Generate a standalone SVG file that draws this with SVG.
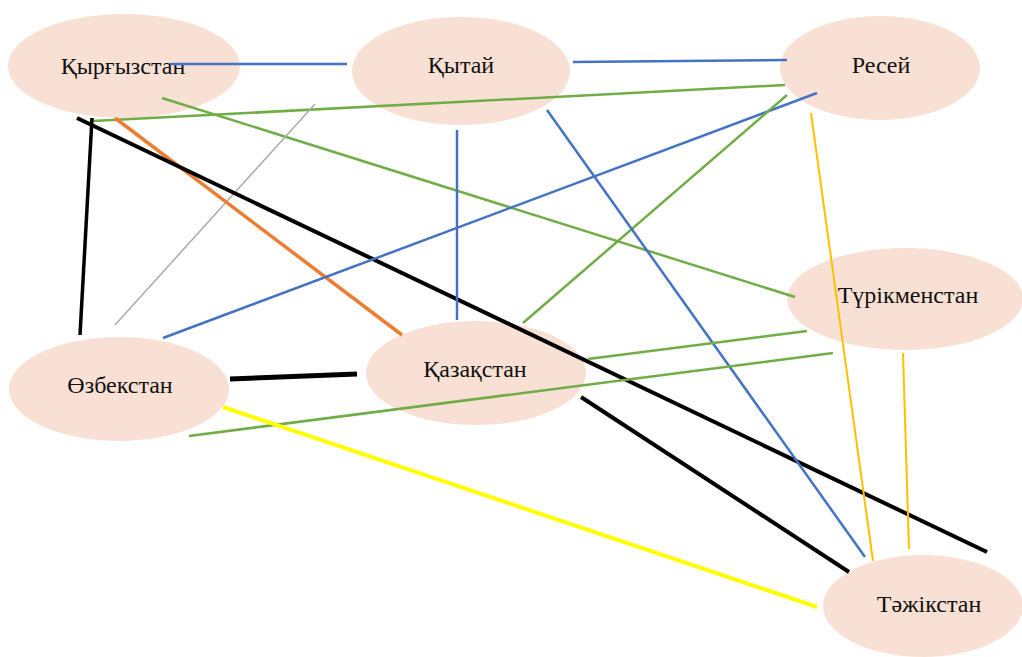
<svg xmlns="http://www.w3.org/2000/svg" width="1022" height="657" viewBox="0 0 1022 657">
<style>
.n{fill:#F8E1D4;stroke:none}
.t{font-family:"Liberation Serif","DejaVu Serif","Times New Roman",serif;font-size:24px;fill:#111;text-anchor:middle}
.c{fill:none;stroke-linecap:butt}
.blue{stroke:#4472C4;stroke-width:2.5}
.green{stroke:#70AD47;stroke-width:2.5}
.black{stroke:#000;stroke-width:4}
.orange{stroke:#ED7D31;stroke-width:3.5}
.gray{stroke:#AAAAAA;stroke-width:1.5}
.gold{stroke:#FFC000;stroke-width:2}
.yellow{stroke:#FFFF00;stroke-width:4}
</style>
<rect width="1022" height="657" fill="#fff"/>
<g id="n-kyrgyzstan"><ellipse class="n" cx="124" cy="66" rx="116" ry="52"/><text class="t" x="123" y="74">Қырғызстан</text></g>
<g id="n-kytai"><ellipse class="n" cx="461" cy="71" rx="109" ry="54"/><text class="t" x="461" y="73">Қытай</text></g>
<g id="n-resei"><ellipse class="n" cx="880" cy="68" rx="100" ry="52"/><text class="t" x="881" y="73">Ресей</text></g>
<g id="n-turkmenstan"><ellipse class="n" cx="905" cy="299" rx="118" ry="51"/><text class="t" x="908" y="303">Түрікменстан</text></g>
<g id="n-kazakhstan"><ellipse class="n" cx="476" cy="373" rx="110" ry="52"/><text class="t" x="475" y="377">Қазақстан</text></g>
<g id="n-uzbekistan"><ellipse class="n" cx="119" cy="389" rx="110" ry="52"/><text class="t" x="120" y="393">Өзбекстан</text></g>
<g id="n-tajikistan"><ellipse class="n" cx="923" cy="606" rx="100" ry="51"/><text class="t" x="929" y="612">Тәжікстан</text></g>
<g id="connectors">
<line class="c blue" x1="170" y1="64" x2="347" y2="64"/>
<line class="c blue" x1="573" y1="62" x2="787" y2="60"/>
<line class="c green" x1="93" y1="121" x2="785" y2="85"/>
<line class="c green" x1="162" y1="98" x2="795" y2="297"/>
<line class="c gray" x1="315" y1="104" x2="115" y2="325"/>
<line class="c orange" x1="115" y1="118" x2="402" y2="335"/>
<line class="c black" x1="77" y1="118" x2="987" y2="552"/>
<line class="c black" style="stroke-width:3.5" x1="92" y1="118" x2="80" y2="335"/>
<line class="c blue" x1="163" y1="338" x2="817" y2="93"/>
<line class="c green" x1="523" y1="323" x2="787" y2="95"/>
<line class="c blue" x1="457" y1="130" x2="457" y2="320"/>
<line class="c blue" x1="547" y1="110" x2="865" y2="557"/>
<line class="c gold" x1="811" y1="113" x2="873" y2="561"/>
<line class="c gold" x1="903" y1="353" x2="909" y2="549"/>
<line class="c green" x1="588" y1="359" x2="807" y2="331"/>
<line class="c green" x1="189" y1="436" x2="833" y2="353"/>
<line class="c black" style="stroke-width:5" x1="230" y1="379" x2="357" y2="374"/>
<line class="c black" x1="581" y1="397" x2="849" y2="572"/>
<line class="c yellow" x1="223" y1="407" x2="817" y2="607"/>
</g>
</svg>
